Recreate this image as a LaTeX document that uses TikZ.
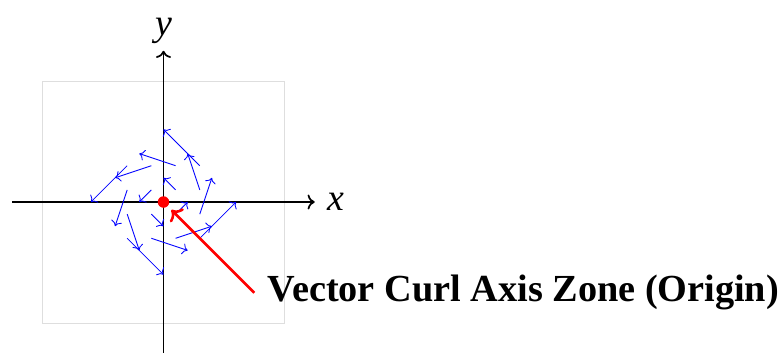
\documentclass[tikz,border=0pt]{standalone}
\usepackage{fontspec}
\setmainfont{Liberation Serif}
\usetikzlibrary{arrows.meta, positioning, calc}
\definecolor{mydark}{RGB}{0,0,0}
\definecolor{myblue}{RGB}{0,0,255}
\definecolor{myred}{RGB}{255,0,0}
\definecolor{mgframe}{RGB}{222,222,222}
\tikzset{
  axis/.style={->, thick, color=mydark},
  fieldarrow/.style={->, color=myblue},
  zonebox/.style={draw=mgframe, thin},
  redarrow/.style={->, very thick, color=myred},
  dotnode/.style={circle, fill=myred, inner sep=0pt, minimum size=0.19cm},
  biglabel/.style={font=\fontsize{17.8}{21}\selectfont}
}
\begin{document}
\begin{tikzpicture}
  \useasboundingbox (-2.702,-2.479) rectangle (10.190,3.339);

  % ── Zone frame ──────────────────────────────────────────────────────────
  \draw[zonebox] (-2,-2) rectangle (2,2);

  % ── Axes ────────────────────────────────────────────────────────────────
  \coordinate (xstart) at (-2.5,0);
  \coordinate (xend)   at (2.5,0);
  \coordinate (ystart) at (0,-2.5);
  \coordinate (yend)   at (0,2.5);
  \draw[axis] (xstart) -- (xend);
  \draw[axis] (ystart) -- (yend);
  \node[biglabel, right=0.08cm of xend] (xlab) {\textit{x}};
  \node[biglabel, above=0pt of yend] (ylab) {\textit{y}};

  % ── Rotational field F = (-y, x) ────────────────────────────────────────
  \foreach \x in {-0.6,-0.2,0.2,0.6}
    \foreach \y in {-0.6,-0.2,0.2,0.6}
      \draw[fieldarrow] (\x,\y) -- ++({-1*(\y)},{\x});

  % ── Origin marker and label ─────────────────────────────────────────────
  \node[dotnode] (origin) at (0,0) {};
  \coordinate (tip) at (0.13,-0.13);
  \node[anchor=west, inner xsep=0.22cm, font=\bfseries\fontsize{18}{21}\selectfont]
    (zonelab) at (1.5,-1.5) {Vector Curl Axis Zone (Origin)};
  \draw[redarrow] (zonelab.west) -- (tip);
\end{tikzpicture}
\end{document}
